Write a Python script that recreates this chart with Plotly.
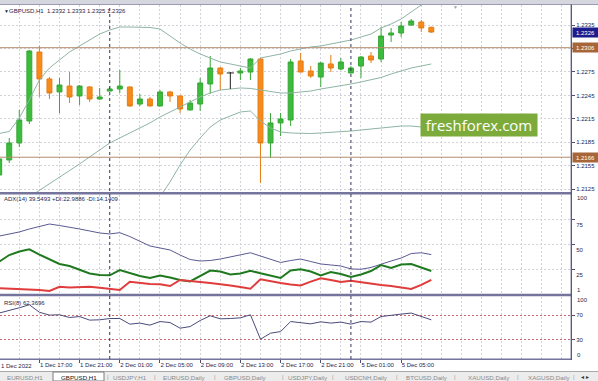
import plotly.graph_objects as go

# ---------------- data ----------------
times = ([f"1 Dec {h:02d}:00" for h in range(13, 24)]
         + [f"2 Dec {h:02d}:00" for h in range(24)]
         + [f"5 Dec {h:02d}:00" for h in range(9)])

opens = [1.21433, 1.21625, 1.21842, 1.22123, 1.23005, 1.22660, 1.22494, 1.22570, 1.22443, 1.22558,
         1.22404, 1.22506, 1.22532, 1.22558, 1.22340, 1.22404, 1.22315, 1.22494, 1.22443, 1.22264,
         1.22340, 1.22596, 1.22800, 1.22737, 1.22737, 1.22749, 1.22915, 1.21842, 1.22098, 1.22136,
         1.22890, 1.22762, 1.22685, 1.22852, 1.22788, 1.22737, 1.22826, 1.22954, 1.22915, 1.23222,
         1.23248, 1.23350, 1.23388, 1.23320]
highs = [1.21663, 1.21906, 1.22264, 1.23031, 1.23082, 1.22685, 1.22673, 1.22749, 1.22583, 1.22570,
         1.22545, 1.22570, 1.22775, 1.22565, 1.22468, 1.22430, 1.22519, 1.22506, 1.22450, 1.22392,
         1.22673, 1.22954, 1.22813, 1.22749, 1.22800, 1.22928, 1.22928, 1.22225, 1.22225, 1.22915,
         1.22992, 1.22826, 1.22877, 1.22967, 1.22928, 1.22826, 1.22954, 1.23005, 1.23324, 1.23312,
         1.23388, 1.23427, 1.23414, 1.23330]
lows = [1.21408, 1.21586, 1.21791, 1.22085, 1.22430, 1.22404, 1.22225, 1.22353, 1.22328, 1.22366,
        1.22392, 1.22506, 1.22481, 1.22305, 1.22315, 1.22310, 1.22310, 1.22366, 1.22225, 1.22258,
        1.22251, 1.22468, 1.22519, 1.22532, 1.22647, 1.22647, 1.21331, 1.21650, 1.21931, 1.22059,
        1.22745, 1.22673, 1.22558, 1.22749, 1.22775, 1.22730, 1.22673, 1.22864, 1.22877, 1.23133,
        1.23197, 1.23337, 1.23261, 1.23250]
closes = [1.21638, 1.21842, 1.22136, 1.23018, 1.22660, 1.22481, 1.22583, 1.22430, 1.22570, 1.22404,
          1.22430, 1.22532, 1.22570, 1.22315, 1.22404, 1.22315, 1.22494, 1.22443, 1.22276, 1.22353,
          1.22609, 1.22800, 1.22724, 1.22737, 1.22762, 1.22915, 1.21842, 1.22098, 1.22149, 1.22877,
          1.22749, 1.22698, 1.22864, 1.22800, 1.22877, 1.22800, 1.22941, 1.22903, 1.23209, 1.23248,
          1.23337, 1.23401, 1.23312, 1.23260]

bb_upper = [1.21963, 1.21989, 1.22161, 1.22392, 1.22647, 1.22800, 1.22903, 1.23005, 1.23082, 1.23158,
            1.23235, 1.23286, 1.23324, 1.23324, 1.23324, 1.23318, 1.23299, 1.23209, 1.23120, 1.23043,
            1.22979, 1.22928, 1.22877, 1.22852, 1.22826, 1.22800, 1.22928, 1.22954, 1.22979, 1.23018,
            1.23043, 1.23069, 1.23082, 1.23107, 1.23133, 1.23158, 1.23197, 1.23235, 1.23312, 1.23363,
            1.23427, 1.23516, 1.23606, 1.23670]
bb_middle = [None, None, None, 1.21152, 1.21235, 1.21318, 1.21401, 1.21484, 1.21574, 1.21663,
             1.21752, 1.21842, 1.21906, 1.21970, 1.22027, 1.22098, 1.22174, 1.22238, 1.22302, 1.22366,
             1.22430, 1.22481, 1.22519, 1.22532, 1.22545, 1.22539, 1.22519, 1.22494, 1.22481, 1.22481,
             1.22494, 1.22506, 1.22532, 1.22551, 1.22570, 1.22596, 1.22622, 1.22647, 1.22679, 1.22724,
             1.22762, 1.22800, 1.22826, 1.22852]
bb_lower = [None] * 16 + [1.21152, 1.21344, 1.21561, 1.21752, 1.21906, 1.22046, 1.22136, 1.22187,
                          1.22238, 1.22251, 1.22123, 1.22034, 1.21983, 1.21970, 1.21963, 1.21963,
                          1.21970, 1.21976, 1.21983, 1.21995, 1.22008, 1.22021, 1.22034, 1.22046,
                          1.22059, 1.22059, 1.22046, 1.22046]

adx = [58.2, 60.3, 62.3, 65.3, 67.8, 70.3, 68.8, 67.3, 65.3, 63.3,
       61.3, 60.3, 61.6, 57.7, 53.2, 48.2, 46.2, 44.2, 39.1, 34.6,
       33.1, 33.6, 35.1, 37.1, 39.1, 41.4, 38.1, 34.6, 31.6, 33.6,
       35.1, 32.6, 30.1, 29.1, 28.1, 25.1, 24.8, 26.6, 30.1, 33.1,
       36.1, 40.6, 41.4, 39.55]
plus_di = [32.4, 39.1, 42.7, 44.9, 39.6, 34.6, 30.1, 28.1, 24.0, 20.5,
           19.0, 18.7, 24.0, 21.0, 18.0, 16.0, 18.5, 16.5, 14.0, 12.5,
           18.0, 23.5, 22.5, 19.5, 20.5, 23.3, 20.7, 18.0, 16.0, 23.5,
           24.7, 22.5, 18.5, 22.0, 20.0, 17.0, 19.5, 23.0, 29.0, 26.0,
           29.6, 30.1, 26.8, 22.99]
minus_di = [5.6, 5.2, 4.9, 4.6, 3.9, 2.9, 7.2, 6.4, 6.9, 7.1,
            6.2, 4.9, 3.9, 12.3, 11.0, 10.0, 9.7, 7.9, 14.0, 13.3,
            12.0, 11.0, 10.0, 8.5, 6.9, 5.2, 14.7, 12.5, 11.0, 9.5,
            8.5, 12.3, 15.7, 14.0, 12.0, 13.3, 11.7, 10.5, 9.0, 7.9,
            6.6, 4.9, 9.0, 14.14]
rsi = [73.3, 77.0, 81.8, 86.7, 74.6, 70.0, 70.5, 66.1, 67.7, 61.9,
       62.4, 64.5, 64.5, 55.4, 57.1, 53.8, 59.6, 58.0, 48.9, 51.5,
       61.3, 68.9, 64.0, 64.5, 65.6, 70.5, 31.1, 40.8, 43.4, 59.6,
       58.0, 55.9, 59.2, 57.1, 58.7, 55.4, 59.6, 58.7, 67.7, 70.0,
       71.6, 73.3, 67.7, 62.37]

price_ticks = [1.2335, 1.2305, 1.2275, 1.2245, 1.2215, 1.2185, 1.2155, 1.2125]
levels = [1.2306, 1.2166]
adx_ticks = [75, 50, 25]
rsi_levels = [70, 30]
tick_times = ["1 Dec 17:00", "1 Dec 21:00", "2 Dec 01:00", "2 Dec 05:00",
              "2 Dec 09:00", "2 Dec 13:00", "2 Dec 17:00", "2 Dec 21:00", "5 Dec 01:00", "5 Dec 05:00"]
tick_labels = ["1 Dec 17:00", "1 Dec 21:00", "2 Dec 01:00", "2 Dec 05:00",
               "2 Dec 09:00", "2 Dec 13:00", "2 Dec 17:00", "2 Dec 21:00", "5 Dec 01:00", "5 Dec 05:00"]
first_date_label = "1 Dec 2022"
separators = ["2 Dec 00:00", "5 Dec 00:00"]
title_main = "GBPUSD,H1  1.2332 1.2333 1.2325 1.2326"
title_adx = "ADX(14) 39.5493 +DI:22.9886 -DI:14.1409"
title_rsi = "RSI(8) 62.3696"
tabs = ["EURUSD,H1", "GBPUSD,H1", "USDJPY,H1", "EURUSD,Daily", "GBPUSD,Daily",
        "USDJPY,Daily", "USDCNH,Daily", "BTCUSD,Daily", "XAUUSD,Daily", "XAGUSD,Daily"]
active_tab = "GBPUSD,H1"

# ---------------- layout helpers ----------------
W, H = 598, 381
def xp(px): return px / W
def yp(py): return (H - py) / H

xs = list(range(len(times)))
TXT = "#26264e"
FONT = "Liberation Sans"
GRID = "#d2d2da"
BORDER = "#74749c"

fig = go.Figure()

# Bollinger bands
for band in (bb_upper, bb_middle, bb_lower):
    fig.add_trace(go.Scatter(x=xs, y=band, mode="lines", line=dict(color="#8fb4a6", width=1),
                             connectgaps=False, xaxis="x", yaxis="y", hoverinfo="skip"))

reg = [i for i in xs if opens[i] != closes[i]]
doji = [i for i in xs if opens[i] == closes[i]]
fig.add_trace(go.Candlestick(
    x=reg, open=[opens[i] for i in reg], high=[highs[i] for i in reg],
    low=[lows[i] for i in reg], close=[closes[i] for i in reg],
    increasing=dict(fillcolor="#3dbb3d", line=dict(color="#36a836", width=1)),
    decreasing=dict(fillcolor="#f88a1c", line=dict(color="#e67e14", width=1)),
    whiskerwidth=0, xaxis="x", yaxis="y", hoverinfo="skip"))
for i in doji:
    fig.add_trace(go.Scatter(x=[i - 0.35, i + 0.35, None, i, i],
                             y=[opens[i], closes[i], None, highs[i], lows[i]],
                             mode="lines", line=dict(color="#202020", width=1),
                             xaxis="x", yaxis="y", hoverinfo="skip"))

# ADX panel
fig.add_trace(go.Scatter(x=xs, y=adx, mode="lines", line=dict(color="#5a5a92", width=1),
                         xaxis="x", yaxis="y2", hoverinfo="skip"))
fig.add_trace(go.Scatter(x=xs, y=plus_di, mode="lines", line=dict(color="#1f7a1f", width=2),
                         xaxis="x", yaxis="y2", hoverinfo="skip"))
fig.add_trace(go.Scatter(x=xs, y=minus_di, mode="lines", line=dict(color="#e03c3c", width=2),
                         xaxis="x", yaxis="y2", hoverinfo="skip"))
# RSI panel
fig.add_trace(go.Scatter(x=xs, y=rsi, mode="lines", line=dict(color="#4a4a7c", width=1),
                         xaxis="x", yaxis="y3", hoverinfo="skip"))

tick_pos = [times.index(t) for t in tick_times]
grid_pos = list(range(0, 58, 2))

fig.update_layout(
    width=W, height=H, margin=dict(l=0, r=0, t=0, b=0),
    paper_bgcolor="white", plot_bgcolor="white", showlegend=False,
    font=dict(family=FONT, size=6, color=TXT),
    xaxis=dict(domain=[0, xp(571)], range=[0.08, 56.9], anchor="y3",
               tickmode="array", tickvals=tick_pos, ticktext=tick_labels, tickangle=0,
               ticklabelposition="outside right", ticks="outside", ticklen=3,
               tickcolor="#505070", showgrid=False, zeroline=False,
               tickfont=dict(family=FONT, size=6, color=TXT),
               rangeslider=dict(visible=False),
               minor=dict(tickmode="array", tickvals=grid_pos, showgrid=True,
                          gridcolor=GRID, griddash="2px,2px", gridwidth=1, ticks="")),
    yaxis=dict(domain=[yp(192), yp(5)], range=[1.212155, 1.236056], side="right", anchor="x",
               tickmode="array", tickvals=price_ticks, tickformat=".4f",
               ticks="outside", ticklen=3, tickcolor="#505070",
               showgrid=True, gridcolor=GRID, griddash="2px,2px", zeroline=False),
    yaxis2=dict(domain=[yp(293.9), yp(194.5)], range=[0, 100], side="right", anchor="x",
                tickmode="array", tickvals=adx_ticks, ticktext=[str(v) for v in adx_ticks],
                ticks="outside", ticklen=3, tickcolor="#505070", ticklabelshift=6,
                showgrid=True, gridcolor=GRID, griddash="2px,2px", zeroline=False),
    yaxis3=dict(domain=[yp(358.5), yp(296.5)], range=[0, 100], side="right", anchor="x",
                tickmode="array", tickvals=rsi_levels, ticks="outside", ticklen=3,
                tickcolor="#505070",
                showgrid=True, gridcolor="#c86a6a", griddash="2px,2px", zeroline=False),
)

shapes = []
# top strip
shapes.append(dict(type="rect", xref="paper", yref="paper", x0=0, x1=1, y0=yp(4), y1=1,
                   fillcolor="#d6d6de", line=dict(width=0), layer="above"))
shapes.append(dict(type="line", xref="paper", yref="paper", x0=0, x1=1, y0=yp(4.5), y1=yp(4.5),
                   line=dict(color="#9a9ab4", width=1), layer="above"))
# panel separators
for py, w in ((193.2, 2.6), (295.0, 2.6), (359.2, 1.6)):
    shapes.append(dict(type="line", xref="paper", yref="paper", x0=0, x1=xp(571.5), y0=yp(py), y1=yp(py),
                       line=dict(color=BORDER, width=w), layer="above"))
# right axis line
shapes.append(dict(type="line", xref="paper", yref="paper", x0=xp(571.3), x1=xp(571.3), y0=yp(4.5), y1=yp(360),
                   line=dict(color="#52527a", width=1.3), layer="above"))
# horizontal price levels
for lv in levels:
    shapes.append(dict(type="line", xref="paper", yref="y", x0=0, x1=xp(571), y0=lv, y1=lv,
                       line=dict(color="#b48c6c", width=1), layer="above"))
# period separators
for s in separators:
    xi = times.index(s)
    shapes.append(dict(type="line", xref="x", yref="paper", x0=xi, x1=xi, y0=yp(359), y1=yp(5),
                       line=dict(color="#34345a", width=1, dash="dot"), layer="above"))
# tab bar
shapes.append(dict(type="rect", xref="paper", yref="paper", x0=0, x1=1, y0=0, y1=yp(371.5),
                   fillcolor="#ececec", line=dict(width=0), layer="above"))
shapes.append(dict(type="line", xref="paper", yref="paper", x0=0, x1=1, y0=yp(371.5), y1=yp(371.5),
                   line=dict(color="#a8a8a8", width=1), layer="above"))
shapes.append(dict(type="rect", xref="paper", yref="paper", x0=xp(53), x1=xp(104), y0=0, y1=yp(372),
                   fillcolor="white", line=dict(color="#7c7c7c", width=1), layer="above"))
fig.update_layout(shapes=shapes)

ann = []
def text(x, y, s, size=6, color=TXT, xanchor="left", **kw):
    ann.append(dict(x=x, y=y, xref=kw.pop("xref", "paper"), yref=kw.pop("yref", "paper"), text=s,
                    showarrow=False, xanchor=xanchor, yanchor="middle",
                    font=dict(family=FONT, size=size, color=color), **kw))

text(xp(1.5), yp(11), "▼", size=5)
text(xp(7), yp(11), title_main, size=6)
text(xp(2), yp(199.5), title_adx, size=6)
text(xp(2), yp(302.5), title_rsi, size=6)
text(xp(455), yp(6.5), "▼", size=5, color="#a0a0a8", xanchor="center")
text(xp(-1), yp(365.5), first_date_label, size=6)

# price boxes
for lv in levels:
    ann.append(dict(x=xp(572), y=lv, xref="paper", yref="y", text=f"{lv:.4f}", showarrow=False,
                    xanchor="left", yanchor="middle", bgcolor="#a6663a", width=24, height=8,
                    borderpad=0.5, font=dict(family=FONT, size=6, color="white")))
ann.append(dict(x=xp(572), y=closes[-1], xref="paper", yref="y", text=f"{closes[-1]:.4f}",
                showarrow=False, xanchor="left", yanchor="middle", bgcolor="#1c1c8e", width=24, height=8,
                borderpad=0.5, font=dict(family=FONT, size=6, color="white")))

# extreme scale labels
text(xp(575), 100, "100", yref="y2", yshift=-3.5)
text(xp(575), 1, "1", yref="y2", yshift=2.5)
text(xp(575), 100, "100", yref="y3", yshift=-3.5)
text(xp(575), 0, "0", yref="y3", yshift=3.5)

# watermark
ann.append(dict(x=xp(479), y=yp(125), xref="paper", yref="paper", text="freshforex.com",
                showarrow=False, xanchor="center", yanchor="middle", bgcolor="#7dab3b",
                width=116, height=22, borderpad=0,
                font=dict(family="Open Sans", size=15, color="white")))

# tabs
tab_centers = [25, 78.5, 130, 184, 245, 308, 366, 427, 489, 549]
for t, cx in zip(tabs, tab_centers):
    text(xp(cx), yp(377), t, size=6.2, color="#111111" if t == active_tab else "#8a8a8a",
         xanchor="center")
for sx in (108, 155, 215, 283, 333, 397, 455, 518, 574):
    text(xp(sx), yp(377), "|", size=6, color="#9a9a9a", xanchor="center")
text(xp(585), yp(377), "◂ ▸", size=6, color="#333333", xanchor="center")

fig.update_layout(annotations=ann)
fig.write_html("out.html", config={"displayModeBar": False})
